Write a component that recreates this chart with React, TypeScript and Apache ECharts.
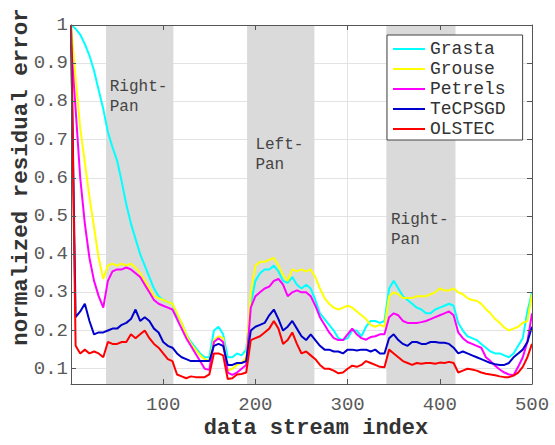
import React, { useEffect, useRef } from "react";
import * as echarts from "echarts";

const STEP = 5;
const sampleIndex = Array.from({ length: 101 }, (_, i) => i * STEP);

const seriesNames = ["Grasta", "Grouse", "Petrels", "TeCPSGD", "OLSTEC"];
const seriesColors = ["#00ffff", "#ffff00", "#ff00ff", "#0000cc", "#ff0000"];

const grasta = [
  1.0, 0.99, 0.975, 0.95, 0.92, 0.88, 0.83, 0.78, 0.72, 0.68,
  0.645, 0.59, 0.53, 0.48, 0.44, 0.40, 0.37, 0.34, 0.31, 0.29,
  0.28, 0.275, 0.27, 0.24, 0.22, 0.19, 0.17, 0.155, 0.14, 0.13,
  0.13, 0.20, 0.21, 0.19, 0.13, 0.13, 0.14, 0.135, 0.15, 0.27,
  0.33, 0.35, 0.36, 0.36, 0.37, 0.355, 0.33, 0.325, 0.34, 0.32,
  0.31, 0.32, 0.31, 0.28, 0.245, 0.23, 0.215, 0.20, 0.18, 0.175,
  0.18, 0.20, 0.20, 0.185, 0.21, 0.225, 0.225, 0.22, 0.225, 0.31,
  0.33, 0.31, 0.29, 0.28, 0.27, 0.26, 0.255, 0.245, 0.245, 0.255,
  0.26, 0.265, 0.27, 0.265, 0.22, 0.20, 0.185, 0.18, 0.175, 0.165,
  0.155, 0.145, 0.14, 0.14, 0.135, 0.13, 0.14, 0.16, 0.18, 0.25,
  0.30,
];

const grouse = [
  1.0, 0.86, 0.73, 0.64, 0.55, 0.47, 0.39, 0.335, 0.37, 0.375,
  0.37, 0.375, 0.37, 0.375, 0.365, 0.35, 0.33, 0.31, 0.29, 0.285,
  0.28, 0.275, 0.27, 0.245, 0.22, 0.19, 0.165, 0.15, 0.135, 0.125,
  0.12, 0.175, 0.185, 0.18, 0.095, 0.10, 0.11, 0.115, 0.13, 0.30,
  0.37, 0.38, 0.38, 0.385, 0.39, 0.37, 0.345, 0.33, 0.36, 0.355,
  0.36, 0.355, 0.36, 0.34, 0.31, 0.285, 0.27, 0.26, 0.255, 0.26,
  0.265, 0.26, 0.25, 0.24, 0.23, 0.215, 0.21, 0.215, 0.21, 0.29,
  0.30, 0.295, 0.285, 0.285, 0.285, 0.29, 0.29, 0.29, 0.295, 0.30,
  0.31, 0.305, 0.305, 0.31, 0.30, 0.295, 0.285, 0.28, 0.278, 0.27,
  0.256, 0.245, 0.23, 0.22, 0.208, 0.20, 0.205, 0.21, 0.22, 0.225,
  0.295,
];

const petrels = [
  0.95, 0.78, 0.60, 0.48, 0.39, 0.33, 0.29, 0.26, 0.33, 0.355,
  0.36, 0.36, 0.365, 0.36, 0.35, 0.34, 0.32, 0.30, 0.28, 0.27,
  0.265, 0.26, 0.255, 0.23, 0.205, 0.18, 0.16, 0.14, 0.12, 0.10,
  0.097, 0.17, 0.18, 0.17, 0.09, 0.084, 0.09, 0.10, 0.11, 0.26,
  0.29, 0.30, 0.31, 0.315, 0.33, 0.335, 0.32, 0.29, 0.30, 0.305,
  0.30, 0.30, 0.29, 0.265, 0.235, 0.215, 0.195, 0.18, 0.175, 0.175,
  0.19, 0.205, 0.19, 0.18, 0.176, 0.183, 0.185, 0.19, 0.19, 0.235,
  0.245, 0.24, 0.225, 0.22, 0.22, 0.22, 0.222, 0.225, 0.23, 0.235,
  0.24, 0.245, 0.25, 0.24, 0.195, 0.18, 0.17, 0.165, 0.16, 0.155,
  0.13, 0.12, 0.108, 0.098, 0.09, 0.085, 0.083, 0.105, 0.13, 0.17,
  0.245,
];

const tecpsgd = [
  1.0, 0.235, 0.25, 0.27, 0.225, 0.19, 0.195, 0.195, 0.20, 0.205,
  0.205, 0.215, 0.22, 0.23, 0.255, 0.225, 0.235, 0.225, 0.205, 0.195,
  0.17, 0.16, 0.155, 0.14, 0.13, 0.125, 0.12, 0.12, 0.12, 0.12,
  0.12, 0.16, 0.165, 0.16, 0.11, 0.11, 0.115, 0.115, 0.12, 0.20,
  0.21, 0.215, 0.22, 0.24, 0.255, 0.23, 0.20, 0.21, 0.225, 0.205,
  0.185, 0.175, 0.19, 0.175, 0.16, 0.15, 0.15, 0.145, 0.145, 0.14,
  0.15, 0.15, 0.148, 0.15, 0.15, 0.145, 0.15, 0.14, 0.14, 0.18,
  0.19, 0.175, 0.165, 0.16, 0.17, 0.17, 0.165, 0.165, 0.17, 0.17,
  0.168, 0.168, 0.165, 0.155, 0.14, 0.145, 0.14, 0.135, 0.13, 0.125,
  0.12, 0.115, 0.112, 0.11, 0.11, 0.115, 0.13, 0.14, 0.15, 0.17,
  0.21,
];

const olstec = [
  1.0, 0.16, 0.14, 0.15, 0.14, 0.145, 0.14, 0.13, 0.17, 0.165,
  0.165, 0.17, 0.17, 0.19, 0.18, 0.19, 0.20, 0.18, 0.165, 0.155,
  0.14, 0.125, 0.12, 0.085, 0.08, 0.075, 0.08, 0.078, 0.078, 0.078,
  0.085, 0.14, 0.14, 0.135, 0.073, 0.075, 0.085, 0.086, 0.09, 0.175,
  0.18, 0.185, 0.195, 0.205, 0.225, 0.205, 0.165, 0.175, 0.195, 0.165,
  0.14, 0.145, 0.135, 0.125, 0.11, 0.10, 0.10, 0.095, 0.088, 0.09,
  0.10, 0.108, 0.105, 0.11, 0.12, 0.115, 0.11, 0.105, 0.104, 0.15,
  0.14, 0.13, 0.12, 0.115, 0.11, 0.115, 0.113, 0.115, 0.115, 0.113,
  0.116, 0.115, 0.118, 0.115, 0.09, 0.095, 0.10, 0.098, 0.095, 0.09,
  0.087, 0.085, 0.083, 0.08, 0.078, 0.078, 0.082, 0.09, 0.105, 0.13,
  0.165,
];

const seriesValues = [grasta, grouse, petrels, tecpsgd, olstec];

const yTicks = [0.1, 0.2, 0.3, 0.4, 0.5, 0.6, 0.7, 0.8, 0.9, 1.0];

const panRegions = [
  [38, 111],
  [191, 264],
  [342, 417],
];
const panLabels = [
  { text: "Right-\nPan", x: 42, y: 0.865 },
  { text: "Left-\nPan", x: 200, y: 0.712 },
  { text: "Right-\nPan", x: 347, y: 0.516 },
];

const FONT = '"Liberation Mono", "Courier New", monospace';
const AXIS_COLOR = "#555";
const LABEL_COLOR = "#5a5a5a";
const GRID_COLOR = "#e3e3e3";

export default function App() {
  const ref = useRef<HTMLDivElement>(null);

  useEffect(() => {
    document.body.style.margin = "0";
    if (!ref.current) return;
    const chart = echarts.init(ref.current, null, { renderer: "svg" });

    const lineSeries = seriesNames.map((name, k) => ({
      name,
      type: "line",
      xAxisIndex: 0,
      yAxisIndex: 0,
      data: sampleIndex.map((x, i) => [x, seriesValues[k][i]]),
      symbol: "none",
      showSymbol: false,
      lineStyle: { width: 2, color: seriesColors[k] },
      itemStyle: { color: seriesColors[k] },
      z: 3,
    }));

    const helper = {
      name: "helper",
      type: "line",
      xAxisIndex: 0,
      yAxisIndex: 0,
      data: [],
      silent: true,
      markArea: {
        silent: true,
        z: 1,
        itemStyle: { color: "#dadada" },
        data: panRegions.map(([a, b]) => [{ xAxis: a }, { xAxis: b }]),
      },
      markPoint: {
        silent: true,
        symbol: "rect",
        symbolSize: 0,
        z: 6,
        label: {
          show: true,
          position: [0, 0],
          align: "left",
          verticalAlign: "top",
          formatter: "{b}",
          fontFamily: FONT,
          fontSize: 16,
          lineHeight: 20,
          color: "#444",
        },
        data: panLabels.map((p) => ({ name: p.text, coord: [p.x, p.y] })),
      },
    };

    const xCommon = {
      type: "value",
      gridIndex: 0,
      min: 0,
      max: 500,
      interval: 100,
      splitLine: { show: false },
      axisLine: { show: true, onZero: false, lineStyle: { color: AXIS_COLOR, width: 1 } },
      axisTick: { show: true, inside: true, length: 5, lineStyle: { color: AXIS_COLOR } },
      z: 10,
    };
    const yCommon = {
      type: "value",
      gridIndex: 0,
      min: 0.06,
      max: 1,
      splitLine: { show: false },
      axisLine: { show: true, onZero: false, lineStyle: { color: AXIS_COLOR, width: 1 } },
      axisTick: {
        show: true,
        inside: true,
        length: 5,
        customValues: yTicks,
        lineStyle: { color: AXIS_COLOR },
      },
      z: 10,
    };
    const hidden = {
      axisLine: { show: false },
      axisTick: { show: false },
      axisLabel: { show: false },
    };

    chart.setOption({
      animation: false,
      grid: [
        { left: 71, right: 23, top: 25, bottom: 61, containLabel: false, outerBoundsMode: "none" },
        { left: 71, right: 23, top: 25, bottom: 76.3, containLabel: false, outerBoundsMode: "none" },
      ],
      legend: {
        data: seriesNames,
        orient: "vertical",
        left: 387,
        top: 35,
        padding: [4, 17, 1, 6],
        itemGap: 0,
        itemWidth: 32,
        itemHeight: 2,
        icon: "rect",
        backgroundColor: "#fff",
        borderColor: "#444",
        borderWidth: 1,
        borderRadius: 0,
        textStyle: { fontFamily: FONT, fontSize: 18, color: "#333", lineHeight: 20 },
        z: 20,
      },
      xAxis: [
        {
          ...xCommon,
          position: "bottom",
          name: "data stream index",
          nameLocation: "middle",
          nameGap: 33,
          nameMoveOverlap: false,
          nameTextStyle: {
            fontFamily: FONT,
            fontSize: 22,
            fontWeight: "bold",
            color: "#333",
            padding: [0, 0, 0, 29],
          },
          axisLabel: {
            show: true,
            showMinLabel: false,
            margin: 11,
            fontFamily: FONT,
            fontSize: 19,
            color: LABEL_COLOR,
          },
        },
        { ...xCommon, position: "top", axisLabel: { show: false } },
        {
          type: "value",
          gridIndex: 0,
          min: 0,
          max: 500,
          interval: 100,
          position: "bottom",
          ...hidden,
          splitLine: { show: true, lineStyle: { color: GRID_COLOR, width: 1 } },
          z: 0,
        },
        {
          type: "value",
          gridIndex: 1,
          min: 0,
          max: 500,
          show: false,
          splitLine: { show: false },
        },
      ],
      yAxis: [
        {
          ...yCommon,
          position: "left",
          name: "normalized residual error",
          nameLocation: "middle",
          nameGap: 39,
          nameMoveOverlap: false,
          nameRotate: 90,
          nameTextStyle: {
            fontFamily: FONT,
            fontSize: 22.5,
            fontWeight: "bold",
            color: "#333",
            padding: [0, 0, 0, 55],
          },
          axisLabel: {
            show: true,
            customValues: yTicks,
            margin: 3,
            fontFamily: FONT,
            fontSize: 19,
            color: LABEL_COLOR,
            formatter: (v: number) => (Math.abs(v - 1) < 1e-9 ? "1" : v.toFixed(1)),
          },
        },
        { ...yCommon, position: "right", axisLabel: { show: false } },
        {
          type: "value",
          gridIndex: 1,
          min: 0.1,
          max: 1,
          interval: 0.1,
          position: "left",
          ...hidden,
          splitLine: { show: true, lineStyle: { color: GRID_COLOR, width: 1 } },
          z: 0,
        },
      ],
      series: [helper, ...lineSeries],
    });

    return () => chart.dispose();
  }, []);

  return <div ref={ref} style={{ width: 555, height: 445 }} />;
}
